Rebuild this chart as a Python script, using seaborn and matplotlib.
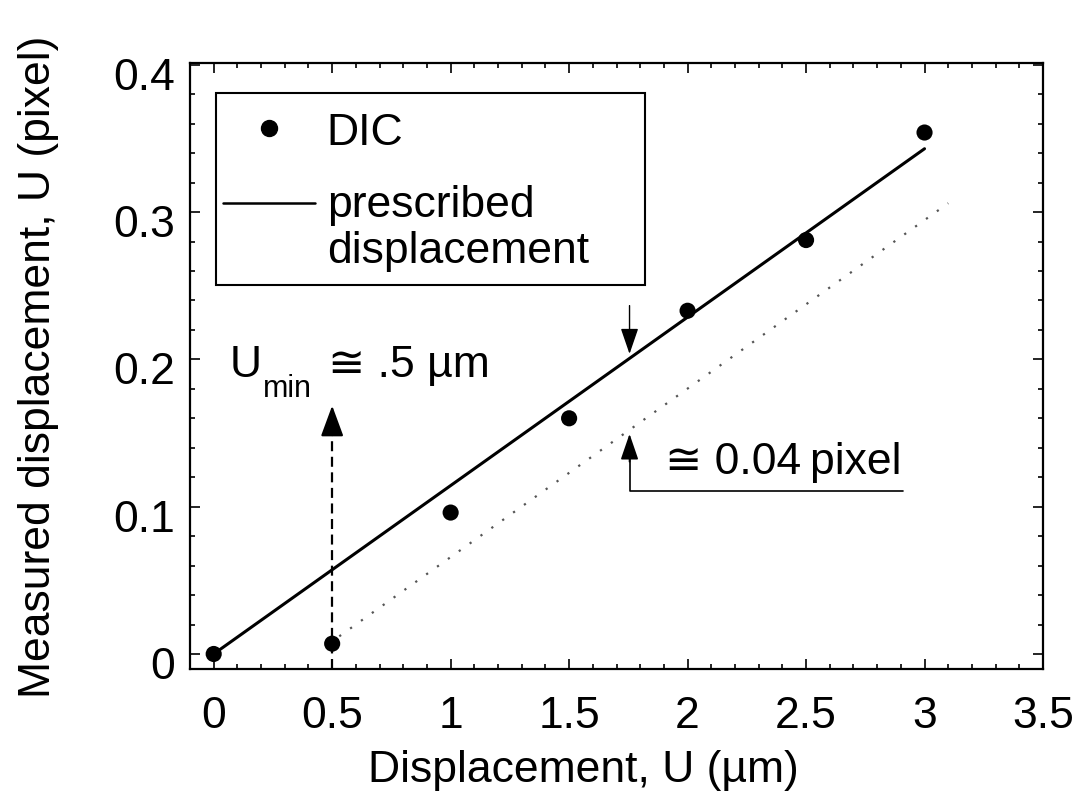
import numpy as np
import pandas as pd
import matplotlib
matplotlib.use("Agg")
import matplotlib.pyplot as plt
import seaborn as sns
from matplotlib.patches import Rectangle
from matplotlib.ticker import MultipleLocator, FixedLocator, FixedFormatter
from matplotlib.transforms import ScaledTranslation

# ---------------- data ----------------
dic_x = [0.0, 0.5, 1.0, 1.5, 2.0, 2.5, 3.0]
dic_y = [0.0, 0.007, 0.096, 0.160, 0.233, 0.281, 0.354]
prescribed_x = [0.0, 3.0]
prescribed_y = [0.0, 0.343]
shifted_x = [0.53, 3.10]
shifted_y = [0.012, 0.306]
xtick_vals = [0, 0.5, 1, 1.5, 2, 2.5, 3, 3.5]
xtick_labels = ["0", "0.5", "1", "1.5", "2", "2.5", "3", "3.5"]
ytick_vals = [0, 0.1, 0.2, 0.3, 0.4]
ytick_labels = ["0", "0.1", "0.2", "0.3", "0.4"]
x_limits = [-0.1, 3.5]
y_limits = [-0.0102, 0.4012]
umin_x = 0.5
umin_tip_y = 0.1686
gap_x = 1.755
gap_top_tip = 0.2037
gap_top_start = 0.2365
gap_bottom_tip = 0.1494
gap_bracket_y = 0.1105
gap_bracket_end_x = 2.91

FS = 32

sns.set_theme(style="ticks")
plt.rcParams["font.family"] = ["Liberation Sans", "DejaVu Sans"]
plt.rcParams["axes.unicode_minus"] = False
plt.rcParams["text.color"] = "black"
plt.rcParams["axes.labelcolor"] = "black"
plt.rcParams["xtick.color"] = "black"
plt.rcParams["ytick.color"] = "black"

fig = plt.figure(figsize=(10.89, 8.03), dpi=100)
fig.patch.set_facecolor("white")
ax = fig.add_axes([190 / 1089, 133 / 803, 853 / 1089, 606 / 803])
ax.set_facecolor("white")

df_dic = pd.DataFrame({"x": dic_x, "y": dic_y})
df_pre = pd.DataFrame({"x": prescribed_x, "y": prescribed_y})
df_sh = pd.DataFrame({"x": shifted_x, "y": shifted_y})

sns.lineplot(data=df_pre, x="x", y="y", ax=ax, color="black", lw=2.2, zorder=3)
sns.lineplot(data=df_sh, x="x", y="y", ax=ax, color="#555555", lw=1.6,
             linestyle=(0, (1, 5)), zorder=2)
sns.scatterplot(data=df_dic, x="x", y="y", ax=ax, color="black", s=135,
                edgecolor="none", zorder=5, clip_on=False)

ax.set_xlim(*x_limits)
ax.set_ylim(*y_limits)

ax.xaxis.set_major_locator(FixedLocator(xtick_vals))
ax.xaxis.set_major_formatter(FixedFormatter(xtick_labels))
ax.yaxis.set_major_locator(FixedLocator(ytick_vals))
ax.yaxis.set_major_formatter(FixedFormatter(ytick_labels))
ax.xaxis.set_minor_locator(MultipleLocator(0.1))
ax.yaxis.set_minor_locator(MultipleLocator(0.02))

ax.tick_params(which="both", direction="in", top=True, right=True,
               colors="black", labelcolor="black", width=1.2)
ax.tick_params(which="major", length=7.5)
ax.tick_params(which="minor", length=3.8)
ax.tick_params(axis="x", which="major", labelsize=FS, pad=19)
ax.tick_params(axis="y", which="major", labelsize=FS, pad=11)

for sp in ax.spines.values():
    sp.set_color("black")
    sp.set_linewidth(1.6)
    sp.set_visible(True)

ax.set_xlabel("Displacement, U (\u00b5m)", fontsize=FS, color="black")
ax.set_ylabel("Measured displacement, U (pixel)", fontsize=FS, color="black")
ax.xaxis.set_label_coords(0.4607, -0.132)
ax.yaxis.set_label_coords(-0.1536, 0.5)

shift = ScaledTranslation(0, -0.08, fig.dpi_scale_trans)
for lab in ax.get_yticklabels():
    lab.set_transform(lab.get_transform() + shift)

# ---------------- legend (drawn as a box) ----------------
ax.add_patch(Rectangle((0.0301, 0.6337), 0.5033, 0.3163, transform=ax.transAxes,
                       fill=True, facecolor="white", edgecolor="black", lw=1.5, zorder=6))
ax.plot([0.0926], [0.8927], "o", color="black", ms=11.5, transform=ax.transAxes, zorder=7)
ax.plot([0.0387, 0.1465], [0.769, 0.769], "-", color="black", lw=1.8,
        transform=ax.transAxes, zorder=7)
ax.text(0.1603, 0.866, "DIC", transform=ax.transAxes, fontsize=FS, va="baseline", zorder=7)
ax.text(0.1603, 0.748, "prescribed", transform=ax.transAxes, fontsize=FS, va="baseline", zorder=7)
ax.text(0.1603, 0.671, "displacement", transform=ax.transAxes, fontsize=FS, va="baseline", zorder=7)

# ---------------- annotations ----------------
# dashed vertical arrow at U_min
ax.plot([umin_x, umin_x], [y_limits[0], umin_tip_y - 0.012], color="black", lw=1.6,
        linestyle=(0, (4.5, 2.5)), zorder=4)
ax.annotate("", xy=(umin_x, umin_tip_y), xytext=(umin_x, umin_tip_y - 0.02),
            arrowprops=dict(arrowstyle="-|>,head_length=1.9,head_width=0.7",
                            color="black", lw=1.6, mutation_scale=10,
                            shrinkA=0, shrinkB=0), zorder=4)
ax.text(0.0676, 0.189, "U", fontsize=FS, va="baseline")
ax.text(0.207, 0.1754, "min", fontsize=22, va="baseline")
ax.text(0.482, 0.189, "\u2245 .5 \u00b5m", fontsize=FS, va="baseline")

# down arrow onto prescribed line
ax.annotate("", xy=(gap_x, gap_top_tip), xytext=(gap_x, gap_top_start),
            arrowprops=dict(arrowstyle="-|>,head_length=1.6,head_width=0.55",
                            color="black", lw=1.0, mutation_scale=10,
                            shrinkA=0, shrinkB=0), zorder=4)
# bracket arrow up to shifted line
ax.plot([gap_bracket_end_x, gap_x, gap_x], [gap_bracket_y, gap_bracket_y, gap_bottom_tip - 0.01],
        color="black", lw=1.2, zorder=4)
ax.annotate("", xy=(gap_x, gap_bottom_tip), xytext=(gap_x, gap_bracket_y + 0.02),
            arrowprops=dict(arrowstyle="-|>,head_length=1.6,head_width=0.55",
                            color="black", lw=1.2, mutation_scale=10,
                            shrinkA=0, shrinkB=0), zorder=4)
ax.text(1.906, 0.1227, "\u2245 0.04\u2009pixel", fontsize=FS, va="baseline")

fig.savefig("out.png", dpi=100, facecolor="white")
